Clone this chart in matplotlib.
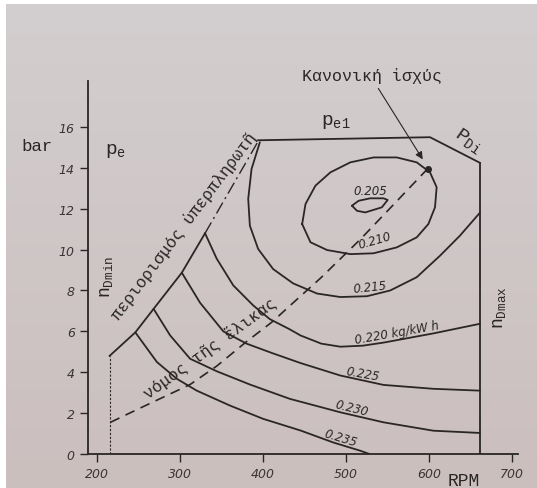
import numpy as np
import matplotlib
matplotlib.use("Agg")
import matplotlib.pyplot as plt

plt.rcParams['mathtext.fontset'] = 'custom'
plt.rcParams['mathtext.rm'] = 'Liberation Mono'
plt.rcParams['mathtext.it'] = 'Liberation Mono'

INK = '#2a2626'
MONO = ['Liberation Mono', 'DejaVu Sans Mono']

# engine boundaries (RPM, bar)
overload_rpm = [215, 246, 268, 302, 330]
overload_bar = [4.8, 5.95, 7.1, 8.87, 10.8]
overload_dash_rpm = [330, 394]
overload_dash_bar = [10.8, 15.3]
top_rpm = [394, 601, 661]
top_bar = [15.35, 15.5, 14.25]
nmin_rpm = 215
nmax_rpm = 661

# propeller law
prop_rpm = [216, 252, 312, 344, 380, 412, 428, 469, 517, 557, 598]
prop_bar = [1.55, 2.25, 3.4, 4.3, 5.5, 6.5, 7.1, 8.6, 10.5, 12.2, 13.95]
rated_rpm, rated_bar = 598, 13.95

# bsfc lines, kg/kWh
c205_rpm = [507, 515, 529, 545, 550, 543, 523, 513, 507]
c205_bar = [12.15, 12.39, 12.51, 12.51, 12.43, 12.07, 11.82, 11.9, 12.15]
c210_rpm = [447, 451, 463, 481, 505, 533, 561, 585, 601, 609, 607, 599, 585, 561, 533, 505, 477, 457, 447]
c210_bar = [11.25, 12.23, 13.13, 13.78, 14.27, 14.51, 14.51, 14.27, 13.78, 13.05, 12.07, 11.25,
            10.6, 10.11, 9.82, 9.78, 9.98, 10.36, 11.25]
c215_rpm = [396, 386, 382, 384, 394, 412, 436, 465, 493, 525, 553, 585, 613, 637, 661]
c215_bar = [15.25, 13.94, 12.48, 11.17, 10.03, 9.05, 8.35, 7.85, 7.68, 7.72, 8.0, 8.65, 9.7, 10.68, 11.8]
c220_rpm = [330, 344, 364, 388, 408, 432, 445, 470, 493, 520, 545, 605, 661]
c220_bar = [10.8, 9.56, 8.25, 7.27, 6.6, 6.1, 5.8, 5.4, 5.25, 5.3, 5.45, 5.9, 6.37]
c225_rpm = [302, 324, 352, 380, 410, 445, 493, 545, 605, 661]
c225_bar = [8.87, 7.4, 6.0, 5.4, 4.95, 4.45, 3.84, 3.38, 3.19, 3.1]
c230_rpm = [268, 288, 312, 344, 384, 432, 493, 545, 605, 661]
c230_bar = [7.1, 5.8, 4.66, 4.05, 3.4, 2.7, 2.04, 1.55, 1.14, 1.03]
c235_rpm = [246, 272, 296, 320, 360, 400, 445, 484, 517, 528]
c235_bar = [5.95, 4.5, 3.68, 3.1, 2.37, 1.72, 1.15, 0.57, 0.16, 0.0]

x_ticks = [200, 300, 400, 500, 600, 700]
y_ticks = [0, 2, 4, 6, 8, 10, 12, 14, 16]

fig = plt.figure(figsize=(5.37, 4.89), dpi=100)
fig.patch.set_facecolor('white')

# scanned paper tone
bg = fig.add_axes([6 / 537, 0, 1, 1 - 5 / 489])
grad = np.linspace(0, 1, 200).reshape(-1, 1)
paper = matplotlib.colors.LinearSegmentedColormap.from_list('paper', ['#d3cecf', '#cbbfbe'])
bg.imshow(grad, cmap=paper, aspect='auto', extent=(0, 1, 0, 1))
bg.set_axis_off()

ax = fig.add_axes([88 / 537, 1 - 455 / 489, (518 - 88) / 537, (455 - 82) / 489])
ax.set_facecolor('none')
ax.set_xlim(189, 707)
ax.set_ylim(0, 18.25)

for s in ['top', 'right']:
    ax.spines[s].set_visible(False)
for s in ['left', 'bottom']:
    ax.spines[s].set_color(INK)
    ax.spines[s].set_linewidth(1.3)

ax.set_xticks(x_ticks)
ax.set_yticks(y_ticks)
ax.tick_params(direction='out', length=6, width=1.0, color=INK, labelcolor='#3a3434', labelsize=9)
for lab in ax.get_xticklabels() + ax.get_yticklabels():
    lab.set_fontstyle('italic')

lw = 1.3
ax.plot(overload_rpm, overload_bar, color=INK, lw=lw)
ax.plot(overload_dash_rpm, overload_dash_bar, color=INK, lw=1.0, linestyle=(0, (9, 3, 1.5, 3)))
ax.plot(top_rpm, top_bar, color=INK, lw=lw)
ax.plot([nmax_rpm, nmax_rpm], [0, top_bar[-1]], color=INK, lw=lw)
ax.plot([nmin_rpm, nmin_rpm], [0, overload_bar[0]], color=INK, lw=0.8, linestyle=(0, (2, 1.5)))

ax.plot(prop_rpm, prop_bar, color=INK, lw=1.2, linestyle=(0, (6, 4)))
ax.plot(rated_rpm, rated_bar, 'o', color=INK, ms=4)

for xs, ys in [(c205_rpm, c205_bar), (c210_rpm, c210_bar), (c215_rpm, c215_bar),
               (c220_rpm, c220_bar), (c225_rpm, c225_bar), (c230_rpm, c230_bar),
               (c235_rpm, c235_bar)]:
    ax.plot(xs, ys, color=INK, lw=lw, solid_capstyle='round', solid_joinstyle='round')

# contour labels
lab_kw = dict(fontsize=8.5, fontstyle='italic', color=INK, ha='center', va='center', rotation_mode='anchor')
ax.text(529, 12.9, '0.205', **lab_kw)
ax.text(534, 10.45, '0.210', rotation=16, **lab_kw)
ax.text(529, 8.2, '0.215', rotation=6, **lab_kw)
ax.text(561, 5.95, '0.220 kg/kW h', rotation=10, **lab_kw)
ax.text(520, 3.95, '0.225', rotation=-10, **lab_kw)
ax.text(506, 2.25, '0.230', rotation=-14, **lab_kw)
ax.text(493, 0.8, '0.235', rotation=-17, **lab_kw)

# other text
ax.text(128, 15.1, 'bar', family=MONO, fontsize=12.5, color=INK, ha='center', va='center', clip_on=False)
ax.text(222, 14.9, r'$\mathrm{p_e}$', fontsize=14, color=INK, ha='center', va='center')
ax.text(488, 16.3, r'$\mathrm{p_{e1}}$', fontsize=14, color=INK, ha='center', va='center')
ax.text(648, 15.4, r'$\mathrm{P_{Di}}$', fontsize=14, color=INK, ha='center', va='center',
        rotation=-35, rotation_mode='anchor')
ax.text(211, 8.7, r'$\mathrm{n_{Dmin}}$', fontsize=13, color=INK, ha='center', va='center', rotation=90)
ax.text(684, 7.2, r'$\mathrm{n_{Dmax}}$', fontsize=13, color=INK, ha='center', va='center', rotation=90)
ax.text(304, 11.2, 'περιορισμός ὑπερπληρωτῆ', family=MONO, fontsize=12, color=INK,
        ha='center', va='center', rotation=53, rotation_mode='anchor')
ax.text(336, 5.2, 'νόμος τῆς ἕλικας', family=MONO, fontsize=12, color=INK,
        ha='center', va='center', rotation=36, rotation_mode='anchor')
ax.text(531, 18.55, 'Κανονική ἰσχύς', family=MONO, fontsize=12, color=INK,
        ha='center', va='center', clip_on=False)
ax.annotate('', xy=(594, 14.3), xytext=(537, 18.0),
            arrowprops=dict(arrowstyle='-|>', lw=0.8, color=INK, mutation_scale=11), annotation_clip=False)
ax.text(642, -1.3, 'RPM', family=MONO, fontsize=13, color=INK, ha='center', va='center', clip_on=False)

fig.savefig('out.png', dpi=100, facecolor=fig.get_facecolor())
